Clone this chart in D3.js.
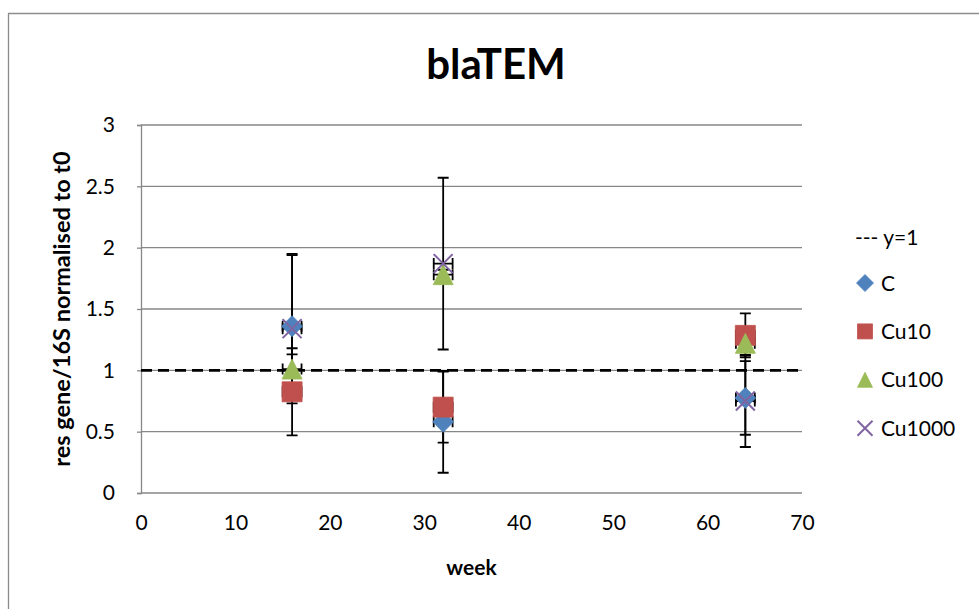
<!DOCTYPE html>
<html>
<head>
<meta charset="utf-8">
<script src="https://cdn.jsdelivr.net/npm/d3@7"></script>
<style>
  body { margin: 0; background: #fff; }
  svg { display: block; font-family: Lato, "Open Sans", sans-serif; }
</style>
</head>
<body>
<svg id="chart" width="979" height="609"></svg>
<script>
// data
const weeks = [16, 32, 64];
const seriesNames = ["C", "Cu10", "Cu100", "Cu1000"];
const cValues = [1.36, 0.58, 0.775];
const cErrors = [0.58, 0.415, 0.30];
const cu10Values = [0.825, 0.70, 1.285];
const cu10Errors = [0.355, 0.29, 0.18];
const cu100Values = [1.01, 1.78, 1.22];
const cu100Errors = [0.12, 0.04, 0.10];
const cu1000Values = [1.34, 1.87, 0.75];
const cu1000Errors = [0.61, 0.70, 0.375];
const weekError = 1;
const refLine = [{x: 0, y: 1}, {x: 70, y: 1}];
const refLabel = "--- y=1";
const xTicks = [0, 10, 20, 30, 40, 50, 60, 70];
const yTicks = [0, 0.5, 1, 1.5, 2, 2.5, 3];

const COLORS = {C: "#4F81BD", Cu10: "#C0504D", Cu100: "#9BBB59", Cu1000: "#8064A2"};
const SHAPES = {C: "diamond", Cu10: "square", Cu100: "triangle", Cu1000: "cross"};

const series = [
    {name: "C", values: cValues, errors: cErrors},
    {name: "Cu10", values: cu10Values, errors: cu10Errors},
    {name: "Cu100", values: cu100Values, errors: cu100Errors},
    {name: "Cu1000", values: cu1000Values, errors: cu1000Errors}
].map(s => ({
    name: s.name,
    points: weeks.map((w, i) => ({x: w, y: s.values[i], err: s.errors[i], xerr: weekError}))
}));

const MARGIN = {top: 125, right: 177, bottom: 116, left: 141};
const WIDTH = 979, HEIGHT = 609;
const GRID = "#878787";

const svg = d3.select("#chart");

const xScale = d3.scaleLinear().domain([0, 70]).range([MARGIN.left, WIDTH - MARGIN.right]);
const yScale = d3.scaleLinear().domain([0, 3]).range([HEIGHT - MARGIN.bottom, MARGIN.top]);

// chart area border (cut off on right/bottom like the original)
svg.append("path")
    .attr("d", "M8.5,2000V13.5H2000")
    .attr("fill", "none")
    .attr("stroke", "#8c8c8c")
    .attr("stroke-width", 1.3);

// gridlines
svg.append("g")
    .selectAll("line")
    .data(yTicks.filter(d => d > 0))
    .join("line")
    .attr("x1", xScale(0))
    .attr("x2", xScale(70))
    .attr("y1", d => yScale(d))
    .attr("y2", d => yScale(d))
    .attr("stroke", GRID)
    .attr("stroke-width", 1.3);

// axes
const yAxis = d3.axisLeft(yScale)
    .tickValues(yTicks)
    .tickFormat(d3.format(""))
    .tickSize(4)
    .tickPadding(22);
const yg = svg.append("g")
    .attr("transform", `translate(${xScale(0)},0)`)
    .call(yAxis);

const xAxis = d3.axisBottom(xScale)
    .tickValues(xTicks)
    .tickSize(0)
    .tickPadding(22);
const xg = svg.append("g")
    .attr("transform", `translate(0,${yScale(0)})`)
    .call(xAxis);

[yg, xg].forEach(g => {
    g.select(".domain").attr("stroke", GRID).attr("stroke-width", 1.3);
    g.selectAll(".tick line").attr("stroke", GRID).attr("stroke-width", 1.3);
    g.selectAll("text")
        .attr("fill", "#000")
        .style("font-size", "21px")
        .style("font-family", "Lato, sans-serif");
});
xg.select(".domain").attr("d", `M${xScale(0)},0H${xScale(70)}`);

// y = 1 reference line
svg.append("path")
    .datum(refLine)
    .attr("d", d3.line().x(d => xScale(d.x)).y(d => yScale(d.y)))
    .attr("stroke", "#000")
    .attr("stroke-width", 2.6)
    .attr("stroke-dasharray", "11,6")
    .attr("fill", "none");

// error bars first, markers on top
const CAP = 5.5;
const errG = svg.append("g")
    .attr("stroke", "#000")
    .attr("stroke-width", 1.8)
    .attr("fill", "none");

series.forEach(s => {
    const g = errG.append("g");
    g.selectAll("path.ybar")
        .data(s.points)
        .join("path")
        .attr("class", "ybar")
        .attr("d", d => {
            const cx = xScale(d.x), top = yScale(d.y + d.err), bot = yScale(d.y - d.err);
            return `M${cx},${top}V${bot}M${cx - CAP},${top}H${cx + CAP}M${cx - CAP},${bot}H${cx + CAP}`;
        });
    g.selectAll("path.xbar")
        .data(s.points)
        .join("path")
        .attr("class", "xbar")
        .attr("d", d => {
            const cy = yScale(d.y), l = xScale(d.x - d.xerr), r = xScale(d.x + d.xerr);
            return `M${l},${cy}H${r}M${l},${cy - CAP}V${cy + CAP}M${r},${cy - CAP}V${cy + CAP}`;
        });
});

function markerPath(shape, r) {
    const p = d3.path();
    if (shape === "diamond") {
        p.moveTo(0, -r); p.lineTo(r, 0); p.lineTo(0, r); p.lineTo(-r, 0); p.closePath();
    } else if (shape === "square") {
        p.rect(-r, -r, 2 * r, 2 * r);
    } else if (shape === "triangle") {
        p.moveTo(0, -r); p.lineTo(r, r); p.lineTo(-r, r); p.closePath();
    } else {
        p.moveTo(-r, -r); p.lineTo(r, r); p.moveTo(r, -r); p.lineTo(-r, r);
    }
    return p.toString();
}

function drawMarker(sel, name, r) {
    const shape = SHAPES[name];
    if (shape === "cross") {
        sel.attr("d", markerPath(shape, r))
            .attr("fill", "none")
            .attr("stroke", COLORS[name])
            .attr("stroke-width", 2);
    } else {
        sel.attr("d", markerPath(shape, r))
            .attr("fill", COLORS[name])
            .attr("stroke", COLORS[name])
            .attr("stroke-width", 0.8);
    }
}

const MARKER_R = {C: 10.5, Cu10: 10, Cu100: 10, Cu1000: 9.5};
series.forEach(s => {
    svg.append("g")
        .selectAll("path")
        .data(s.points)
        .join("path")
        .attr("transform", d => `translate(${xScale(d.x)},${yScale(d.y)})`)
        .call(drawMarker, s.name, MARKER_R[s.name]);
});

// title and axis labels
svg.append("text")
    .attr("x", 496)
    .attr("y", 79)
    .attr("text-anchor", "middle")
    .style("font-size", "42px")
    .style("font-weight", "bold")
    .text("blaTEM");

svg.append("text")
    .attr("x", (xScale(0) + xScale(70)) / 2)
    .attr("y", 575)
    .attr("text-anchor", "middle")
    .style("font-size", "21px")
    .style("font-weight", "bold")
    .text("week");

svg.append("text")
    .attr("transform", `translate(61,${(yScale(0) + yScale(3)) / 2}) rotate(-90)`)
    .attr("text-anchor", "middle")
    .attr("dominant-baseline", "central")
    .style("font-size", "23.5px")
    .style("font-weight", "bold")
    .text("res gene/16S normalised to t0");

// legend
const legend = svg.append("g").attr("transform", "translate(855,0)");
legend.append("text")
    .attr("x", 0)
    .attr("y", 245)
    .style("font-size", "21px")
    .text(refLabel);

const legendRows = legend.selectAll("g.row")
    .data(seriesNames)
    .join("g")
    .attr("class", "row")
    .attr("transform", (d, i) => `translate(0,${283 + i * 48.4})`);
legendRows.append("path")
    .attr("transform", "translate(10,0)")
    .each(function (d) {
        d3.select(this).call(drawMarker, d, d === "C" ? 8.5 : 7.5);
    });
legendRows.append("text")
    .attr("x", 26)
    .attr("dy", "0.36em")
    .style("font-size", "21px")
    .text(d => d);
</script>
</body>
</html>
